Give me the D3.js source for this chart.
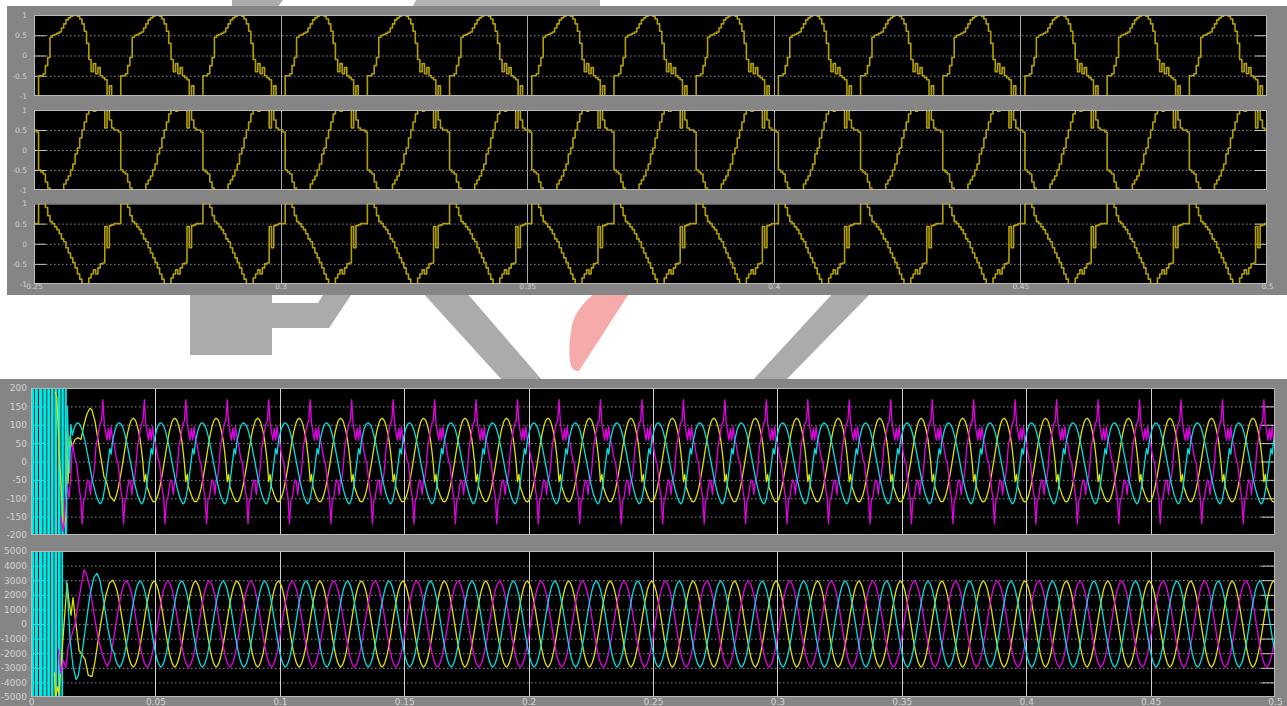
<!DOCTYPE html>
<html>
<head>
<meta charset="utf-8">
<script src="https://cdn.jsdelivr.net/npm/d3@7"></script>
<style>
  body { margin: 0; background: #fff; }
  svg { display: block; font-family: "DejaVu Sans", sans-serif; }
</style>
</head>
<body>
<div id="chart"></div>
<script>
// ---------- data ----------
// top scope: 0.25 s .. 0.5 s, three normalised signals, one 60 Hz cycle each (36 samples)
var topTicksX = [0.25, 0.3, 0.35, 0.4, 0.45, 0.5];
var topTicksY = [1, 0.5, 0, -0.5, -1];
var topCycleA = [-1, -1, -0.5, -0.5, -0.45, -0.25, -0.05, 0.45, 0.5, 0.52, 0.55, 0.58, 0.68, 0.78, 0.88, 0.93, 0.97, 1,
                 1, 0.97, 0.9, 0.78, 0.6, 0.3, -0.1, -0.4, -0.2, -0.45, -0.3, -0.5, -0.55, -0.6, -1, -0.75, -1, -1];
var topCycleB = [0.5, 0.45, -0.5, -0.55, -0.6, -0.8, -0.95, -1, -1, -1, -1, -1, -1, -0.85, -0.75, -0.65, -0.5, -0.35,
                 -0.1, 0.05, 0.3, 0.5, 0.7, 0.9, 1, 1, 0.97, 1, 1, 1, 1, 0.55, 1, 0.75, 0.55, 0.5];
var topCycleC = [0.5, 0.5, 1, 1, 1, 0.9, 0.7, 0.55, 0.5, 0.42, 0.35, 0.25, 0.12, 0.05, -0.1, -0.23, -0.35, -0.47,
                 -0.6, -0.75, -0.88, -1, -1, -1, -0.85, -0.75, -0.65, -0.75, -0.6, -0.5, -0.48, 0.43, -0.1, 0.45, 0.47, 0.5];

// bottom scope: 0 .. 0.5 s, currents (A) and voltages (V)
var botTicksX = [0, 0.05, 0.1, 0.15, 0.2, 0.25, 0.3, 0.35, 0.4, 0.45, 0.5];
var curTicksY = [200, 150, 100, 50, 0, -50, -100, -150, -200];
var voltTicksY = [5000, 4000, 3000, 2000, 1000, 0, -1000, -2000, -3000, -4000, -5000];

// one steady 60 Hz cycle per phase, 30 samples
var curYellow = [-108, -100, -89, -74, -55, -34, -12, 12, 36, 59, 79, 95, 108, 115, 118, 115, 108, 95, 79, 59,
                 30, -5, -55, -35, -70, -80, -92, -100, -108, -110];
var curMagenta = [50, 25, 5, -5, -40, -78, -100, -170, -105, -100, -70, -50, -55, -90, -50, -45, -10, 40, 60, 85,
                  104, 110, 168, 104, 80, 58, 90, 58, 95, 60];
var curCyan = [72, 88, 98, 104, 105, 102, 96, 86, 72, 56, 38, 18, -2, -22, -42, -60, -76, -90, -101, -110,
               -115, -112, -100, -80, -55, -25, 5, 35, 20, 55];
var voltYellow = [2850, 2650, 2350, 1950, 1450, 900, 300, -300, -900, -1450, -1950, -2350, -2650, -2850, -2950,
                  -2850, -2650, -2350, -1950, -1450, -900, -300, 300, 900, 1450, 1950, 2350, 2650, 2850, 2950];
var voltMagenta = [-900, -300, 300, 900, 1450, 1950, 2350, 2650, 2850, 2950, 2850, 2650, 2350, 1950, 1450,
                   900, 300, -300, -900, -1450, -1950, -2350, -2650, -2850, -2950, -2850, -2650, -2350, -1950, -1450];
var voltCyan = [-1950, -2350, -2650, -2850, -2950, -2850, -2650, -2350, -1950, -1450, -900, -300, 300, 900, 1450,
                1950, 2350, 2650, 2850, 2950, 2850, 2650, 2350, 1950, 1450, 900, 300, -300, -900, -1450];

// start-up transients, [ms, value]
var curYellowStart = [[9.6, 190], [10.4, 175], [11.2, 40], [12.5, -120], [12.9, -186], [14.1, -150], [14.5, 80],
  [14.9, -60], [15.7, 70], [16.5, 40], [17.7, 60], [18.9, 65], [20.1, 60], [21.3, 100], [22.5, 130], [23.7, 145],
  [24.5, 140], [25.7, 110], [26.9, 60], [28.1, 10], [29.3, -40], [30.5, -60], [31.8, -95], [32.6, -100]];
var curMagentaStart = [[12.0, -150], [13.0, -190], [14.5, -60], [15.3, -100], [16.0, -40]];
var curCyanStart = [[14.3, -200], [14.6, 150], [15.1, 40], [15.5, -30], [16.0, 100]];
var voltYellowStart = [[9.4, -3300], [9.9, -5000], [10.6, -4300], [11.2, -4800], [14.5, 2800], [15.3, 1500],
  [16.1, 600], [16.9, 1800], [17.7, 500], [18.5, -600], [19.3, -1800], [20.5, -2100], [21.7, -2400], [23.0, -3500],
  [24.5, -3600], [25.7, -2600], [27.0, -1100], [28.5, 500], [30.0, 1900], [31.5, 2800], [32.9, 3000]];
var voltMagentaStart = [[11.0, -1700], [12.0, -3400], [13.0, -2500], [14.0, -3000], [15.0, -1500], [16.0, -1000],
  [17.7, 0], [19.3, 1800], [20.9, 3300], [21.3, 3700], [22.1, 3500], [23.7, 2500], [25.3, 700], [26.9, -900],
  [28.5, -2000], [29.8, -2600], [30.6, -2900], [31.8, -2500], [33.0, -1200]];
var voltCyanStart = [[14.1, 3000], [14.9, 1500], [15.7, -1100], [16.9, -2900], [18.1, -3800], [18.9, -3600],
  [20.5, -2000], [22.1, 0], [23.7, 2000], [25.3, 3200], [26.5, 3470], [27.7, 3000], [29.3, 1500], [30.9, -300],
  [32.5, -1700]];
// saturated switching bursts at start (ms)
var burstsCur = [[0, 1.2], [1.5, 2.8], [3.2, 4.6], [4.9, 6.2], [6.5, 7.7], [8.0, 9.1], [9.4, 10.5], [10.8, 11.9],
  [12.2, 13.2], [13.5, 14.4]];
var burstsVolt = [[0, 1.2], [1.5, 2.8], [3.2, 4.6], [4.9, 6.2], [6.5, 7.7], [8.0, 9.1], [9.4, 10.5], [10.8, 11.9],
  [12.2, 12.9]];

// ---------- helpers ----------
function tile(cycle, from, to, t0) {
  var n = cycle.length, pts = [];
  for (var c = from; c < to; c++) {
    cycle.forEach(function(v, k) { pts.push([t0 + (c + k / n) / 60, v]); });
  }
  pts.push([t0 + to / 60, cycle[0]]);
  return pts;
}
function series(start, cycle, first) {
  return start.map(function(d) { return [d[0] / 1000, d[1]]; }).concat(tile(cycle, first, 30, 0));
}
var fmt = function(d) { return String(d); };
var clipId = 0;

function panel(g, x, y, xTicks, yTicks, o) {
  var xa = x.range()[0], xb = x.range()[1], ya = y.range()[1], yb = y.range()[0];
  g.append("rect").attr("x", xa).attr("y", ya).attr("width", xb - xa).attr("height", yb - ya).attr("fill", "#000");
  // dotted horizontal grid with solid end ticks
  var inner = yTicks.slice(1, -1);
  g.selectAll(null).data(inner).enter().append("line")
    .attr("x1", xa).attr("x2", xb).attr("y1", function(d) { return y(d) + 0.5; }).attr("y2", function(d) { return y(d) + 0.5; })
    .attr("stroke", "#8c8c8c").attr("stroke-width", 1).attr("stroke-dasharray", "1.5,2.5");
  [[xa, xa + o.stub], [xb - o.stub, xb]].forEach(function(s) {
    g.selectAll(null).data(inner).enter().append("line")
      .attr("x1", s[0]).attr("x2", s[1]).attr("y1", function(d) { return y(d) + 0.5; }).attr("y2", function(d) { return y(d) + 0.5; })
      .attr("stroke", "#c4c4c4").attr("stroke-width", 1);
  });
  // vertical grid at x ticks
  g.selectAll(null).data(xTicks.slice(1, -1)).enter().append("line")
    .attr("x1", function(d) { return Math.round(x(d)) + 0.5; }).attr("x2", function(d) { return Math.round(x(d)) + 0.5; })
    .attr("y1", ya).attr("y2", yb).attr("stroke", o.vgrid).attr("stroke-width", 1);
  // y labels
  g.append("g").attr("transform", "translate(" + o.labelX + ",0)")
    .call(d3.axisLeft(y).tickValues(yTicks).tickFormat(fmt).tickSize(0).tickPadding(0))
    .call(function(a) { a.select(".domain").remove(); })
    .selectAll("text").attr("fill", "#d2d2d2").style("font-size", o.font + "px").style("font-family", "DejaVu Sans, sans-serif");
  var id = "clip" + (clipId++);
  g.append("clipPath").attr("id", id).append("rect")
    .attr("x", xa).attr("y", ya).attr("width", xb - xa).attr("height", yb - ya);
  var plot = g.append("g").attr("clip-path", "url(#" + id + ")");
  // frame drawn last
  g.append("rect").attr("class", "frame").attr("x", xa + 0.5).attr("y", ya + 0.5)
    .attr("width", xb - xa - 1).attr("height", yb - ya - 1).attr("fill", "none").attr("stroke", "#b8b8b8");
  return plot;
}
function trace(g, pts, x, y, color, curve, w) {
  g.append("path").datum(pts).attr("fill", "none").attr("stroke", color).attr("stroke-width", w)
    .attr("stroke-linejoin", "round")
    .attr("d", d3.line().x(function(d) { return x(d[0]); }).y(function(d) { return y(d[1]); }).curve(curve));
}

// ---------- page ----------
var svg = d3.select("#chart").append("svg").attr("width", 1287).attr("height", 706);
svg.append("rect").attr("width", 1287).attr("height", 706).attr("fill", "#fff");

// watermark behind the scopes
var wm = svg.append("g").attr("fill", "#ababab");
wm.append("polygon").attr("points", "190,290 272,290 272,355 190,355");
wm.append("polygon").attr("points", "272,303 318,303 323,295 351,295 329,328 272,328");
wm.append("polygon").attr("points", "422,292 466,292 542,380 502,380");
wm.append("polygon").attr("points", "834,292 872,292 786,380 753,380");
wm.append("polygon").attr("points", "232,0 283,0 277,8 232,8");
wm.append("polygon").attr("points", "416,0 600,0 600,8 412,8").attr("fill", "#b4b4b4");
svg.append("path").attr("fill", "#f7aaaa")
  .attr("d", "M596,292 L630,292 L579,371 Q572,372 570,362 Q568,345 572,325 Q576,308 596,292 Z");

// ---------- top scope ----------
svg.append("rect").attr("x", 7).attr("y", 6).attr("width", 1280).attr("height", 289).attr("fill", "#858585");
var xTop = d3.scaleLinear().domain([0.25, 0.5]).range([34, 1267]);
var topRows = [[15, 96, topCycleA], [110, 190, topCycleB], [203.5, 284, topCycleC]];
topRows.forEach(function(r) {
  var y = d3.scaleLinear().domain([-1, 1]).range([r[1], r[0]]);
  var plot = panel(svg.append("g"), xTop, y, topTicksX, topTicksY,
    { stub: 12, vgrid: "#a8a8a8", labelX: 27, font: 7.5 });
  trace(plot, tile(r[2], 0, 15, 0.25), xTop, y, "#b3a000", d3.curveStepAfter, 1.6);
});
svg.append("g").attr("transform", "translate(0,290)")
  .call(d3.axisBottom(xTop).tickValues(topTicksX).tickFormat(fmt).tickSize(0).tickPadding(0))
  .call(function(a) { a.select(".domain").remove(); })
  .selectAll("text").attr("fill", "#d2d2d2").attr("dy", "-0.1em").style("font-size", "7.5px")
  .style("font-family", "DejaVu Sans, sans-serif");

// ---------- bottom scope ----------
svg.append("rect").attr("x", 0).attr("y", 379).attr("width", 1287).attr("height", 327).attr("fill", "#858585");
var xBot = d3.scaleLinear().domain([0, 0.5]).range([31, 1275]);
var yCur = d3.scaleLinear().domain([-200, 200]).range([535, 388]);
var yVolt = d3.scaleLinear().domain([-5000, 5000]).range([697, 551]);
var opts = { stub: 14, vgrid: "#cfcfcf", labelX: 27, font: 9 };

var curPlot = panel(svg.append("g"), xBot, yCur, botTicksX, curTicksY, opts);
curPlot.selectAll(null).data(burstsCur).enter().append("rect")
  .attr("x", function(d) { return xBot(d[0] / 1000); }).attr("width", function(d) { return xBot(d[1] / 1000) - xBot(d[0] / 1000); })
  .attr("y", yCur(200)).attr("height", yCur(-200) - yCur(200)).attr("fill", "#00e8e8");
trace(curPlot, series(curYellowStart, curYellow, 2), xBot, yCur, "#e2e200", d3.curveLinear, 1.3);
trace(curPlot, series(curMagentaStart, curMagenta, 1), xBot, yCur, "#e600e6", d3.curveLinear, 1.3);
trace(curPlot, series(curCyanStart, curCyan, 1), xBot, yCur, "#00e0e0", d3.curveLinear, 1.3);

var voltPlot = panel(svg.append("g"), xBot, yVolt, botTicksX, voltTicksY, opts);
voltPlot.selectAll(null).data(burstsVolt).enter().append("rect")
  .attr("x", function(d) { return xBot(d[0] / 1000); }).attr("width", function(d) { return xBot(d[1] / 1000) - xBot(d[0] / 1000); })
  .attr("y", yVolt(5000)).attr("height", yVolt(-5000) - yVolt(5000)).attr("fill", "#00e8e8");
trace(voltPlot, series(voltYellowStart, voltYellow, 2), xBot, yVolt, "#e2e200", d3.curveLinear, 1.3);
trace(voltPlot, series(voltMagentaStart, voltMagenta, 2), xBot, yVolt, "#e600e6", d3.curveLinear, 1.3);
trace(voltPlot, series(voltCyanStart, voltCyan, 2), xBot, yVolt, "#00e0e0", d3.curveLinear, 1.3);

svg.append("g").attr("transform", "translate(0,699)")
  .call(d3.axisBottom(xBot).tickValues(botTicksX).tickFormat(fmt).tickSize(0).tickPadding(0))
  .call(function(a) { a.select(".domain").remove(); })
  .selectAll("text").attr("fill", "#d2d2d2").style("font-size", "9px").style("font-family", "DejaVu Sans, sans-serif");
</script>
</body>
</html>
